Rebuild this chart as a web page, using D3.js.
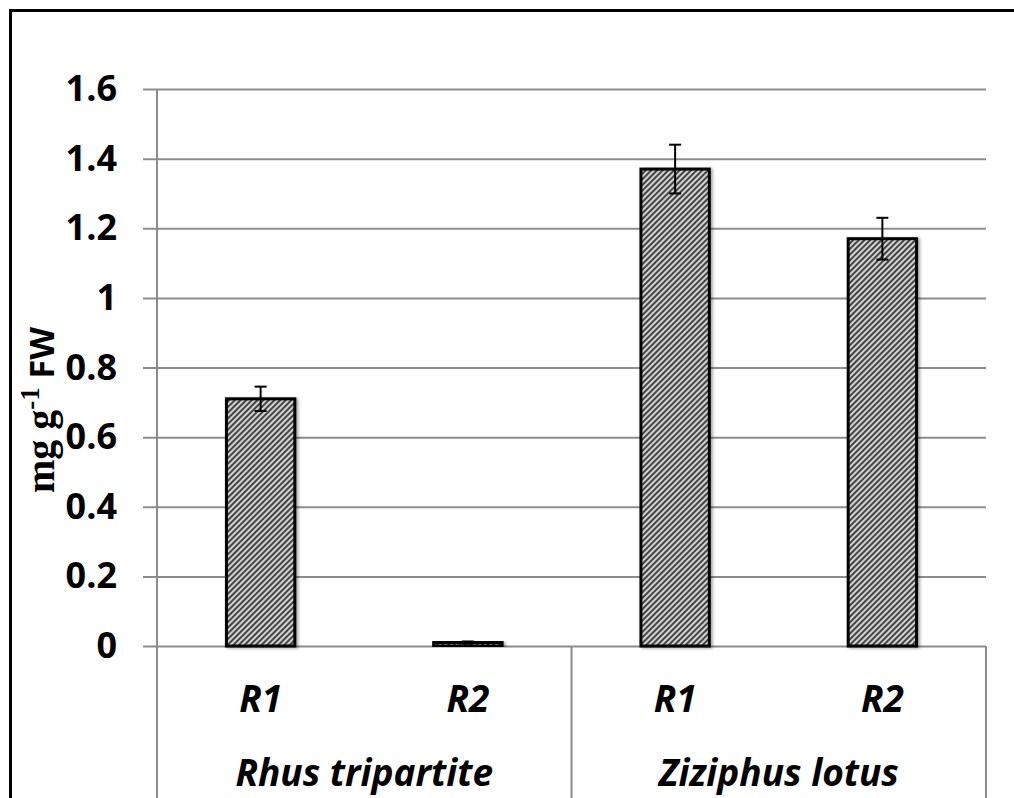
<!DOCTYPE html>
<html>
<head>
<meta charset="utf-8">
<script src="https://cdn.jsdelivr.net/npm/d3@7"></script>
<style>
  body { margin: 0; background: #fff; }
  svg { display: block; }
</style>
</head>
<body>
<script>
// data
var categories = ["Rhus tripartite|R1", "Rhus tripartite|R2", "Ziziphus lotus|R1", "Ziziphus lotus|R2"];
var subLabels = ["R1", "R2", "R1", "R2"];
var groups = ["Rhus tripartite", "Ziziphus lotus"];
var values = [0.71, 0.01, 1.37, 1.17];
var errors = [0.035, 0.003, 0.07, 0.06];
var yTicks = [0, 0.2, 0.4, 0.6, 0.8, 1, 1.2, 1.4, 1.6];

var W = 1014, H = 798;
var plot = {left: 157, right: 986, top: 89, bottom: 646};

var svg = d3.select("body").append("svg")
    .attr("width", W)
    .attr("height", H);

// hatch pattern for the bars
var defs = svg.append("defs");
var pat = defs.append("pattern")
    .attr("id", "hatch")
    .attr("patternUnits", "userSpaceOnUse")
    .attr("width", 4)
    .attr("height", 4)
    .attr("patternTransform", "rotate(45)");
pat.append("rect").attr("width", 4).attr("height", 4).attr("fill", "#d2d2d2");
pat.append("rect").attr("width", 2).attr("height", 4).attr("fill", "#444");

var shadow = defs.append("filter").attr("id", "shadow")
    .attr("x", "-20%").attr("y", "-20%").attr("width", "140%").attr("height", "140%");
shadow.append("feDropShadow")
    .attr("dx", 2).attr("dy", 1).attr("stdDeviation", 1.5)
    .attr("flood-color", "#000").attr("flood-opacity", 0.35);

// outer frame
svg.append("rect")
    .attr("x", 10.5).attr("y", 10.5)
    .attr("width", W + 20).attr("height", H + 20)
    .attr("fill", "none")
    .attr("stroke", "#000")
    .attr("stroke-width", 3);

var x = d3.scaleBand()
    .domain(categories)
    .range([plot.left, plot.right])
    .paddingInner(0.67)
    .paddingOuter(0.335);

var y = d3.scaleLinear()
    .domain([0, 1.6])
    .range([plot.bottom, plot.top]);

// gridlines + ticks
var yAxis = svg.append("g")
    .attr("transform", "translate(" + plot.left + ",0)")
    .call(d3.axisLeft(y)
        .tickValues(yTicks)
        .tickSize(-(plot.right - plot.left))
        .tickPadding(40)
        .tickFormat(d3.format("~g")));
yAxis.select(".domain").remove();
yAxis.selectAll(".tick line")
    .attr("x1", -14)
    .attr("stroke", "#8c8c8c")
    .attr("stroke-width", 2);
yAxis.selectAll(".tick text")
    .style("font-family", "'Open Sans', sans-serif")
    .style("font-weight", "bold")
    .style("font-size", "36px")
    .attr("fill", "#000");

// vertical axis line and group dividers
var step = x.step();
var dividers = [plot.left, plot.left + step * 2, plot.right];
svg.append("line")
    .attr("x1", plot.left).attr("x2", plot.left)
    .attr("y1", plot.top).attr("y2", plot.bottom)
    .attr("stroke", "#8c8c8c").attr("stroke-width", 2);
svg.selectAll(".divider")
    .data(dividers)
    .enter().append("line")
    .attr("class", "divider")
    .attr("x1", function(d) { return d; })
    .attr("x2", function(d) { return d; })
    .attr("y1", plot.bottom)
    .attr("y2", H)
    .attr("stroke", "#8c8c8c")
    .attr("stroke-width", 2);

// bars
svg.append("g").selectAll("rect")
    .data(values)
    .enter().append("rect")
    .attr("x", function(d, i) { return x(categories[i]); })
    .attr("y", function(d) { return y(d); })
    .attr("width", x.bandwidth())
    .attr("height", function(d) { return y(0) - y(d); })
    .attr("fill", "url(#hatch)")
    .attr("stroke", "#000")
    .attr("stroke-width", 3)
    .attr("filter", "url(#shadow)");

// error bars
var eb = svg.append("g").selectAll("g")
    .data(values)
    .enter().append("g")
    .attr("stroke", "#000")
    .attr("stroke-width", 2);
eb.append("line")
    .attr("x1", function(d, i) { return x(categories[i]) + x.bandwidth() / 2; })
    .attr("x2", function(d, i) { return x(categories[i]) + x.bandwidth() / 2; })
    .attr("y1", function(d, i) { return y(d - errors[i]); })
    .attr("y2", function(d, i) { return y(d + errors[i]); });
eb.append("line")
    .attr("x1", function(d, i) { return x(categories[i]) + x.bandwidth() / 2 - 6; })
    .attr("x2", function(d, i) { return x(categories[i]) + x.bandwidth() / 2 + 6; })
    .attr("y1", function(d, i) { return y(d + errors[i]); })
    .attr("y2", function(d, i) { return y(d + errors[i]); });
eb.append("line")
    .attr("x1", function(d, i) { return x(categories[i]) + x.bandwidth() / 2 - 6; })
    .attr("x2", function(d, i) { return x(categories[i]) + x.bandwidth() / 2 + 6; })
    .attr("y1", function(d, i) { return y(d - errors[i]); })
    .attr("y2", function(d, i) { return y(d - errors[i]); });

// category labels
svg.append("g").selectAll("text")
    .data(subLabels)
    .enter().append("text")
    .attr("x", function(d, i) { return x(categories[i]) + x.bandwidth() / 2; })
    .attr("y", 712)
    .attr("text-anchor", "middle")
    .style("font-family", "'Open Sans', sans-serif")
    .style("font-weight", "bold")
    .style("font-style", "italic")
    .style("font-size", "37px")
    .text(function(d) { return d; });

svg.append("g").selectAll("text")
    .data(groups)
    .enter().append("text")
    .attr("x", function(d, i) { return plot.left + step * (2 * i + 1); })
    .attr("y", 786)
    .attr("text-anchor", "middle")
    .style("font-family", "'Open Sans', sans-serif")
    .style("font-weight", "bold")
    .style("font-style", "italic")
    .style("font-size", "37px")
    .text(function(d) { return d; });

// y axis title
var yt = svg.append("text")
    .attr("transform", "translate(54,410) rotate(-90)")
    .attr("text-anchor", "middle")
    .style("font-family", "'Liberation Serif', serif")
    .style("font-weight", "bold")
    .style("font-size", "40px");
yt.append("tspan").text("mg g");
yt.append("tspan").attr("dy", -15).style("font-size", "27px").text("-1");
yt.append("tspan").attr("dy", 15)
    .style("font-family", "'Open Sans', sans-serif")
    .style("font-size", "34px")
    .text(" FW");
</script>
</body>
</html>
